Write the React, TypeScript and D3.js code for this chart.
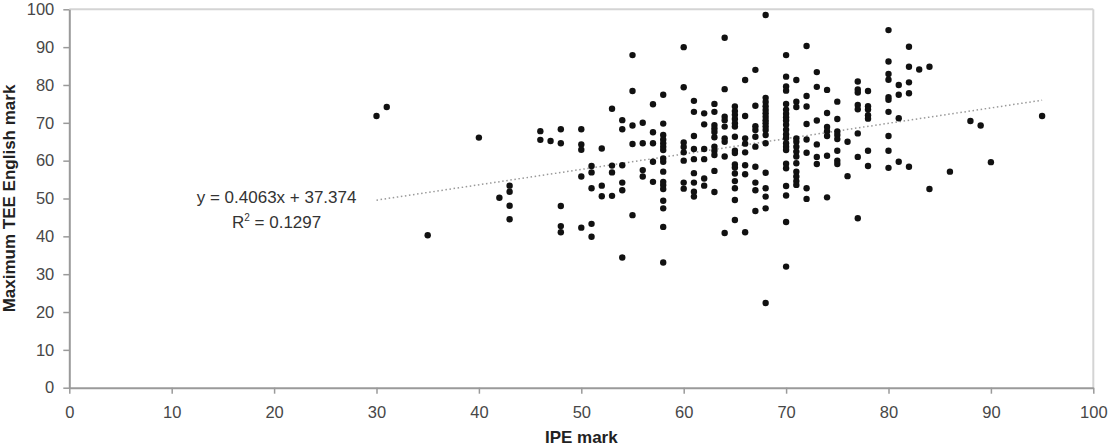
import React, { useRef, useEffect } from 'react';
import * as d3 from 'd3';

// IPE mark (x) and maximum TEE English mark (y)
const ipeMarks = [
  30, 31, 35, 40, 42,
  43, 43, 43, 43,
  46, 46, 47,
  48, 48, 48, 48, 48,
  50, 50, 50, 50, 50,
  51, 51, 51, 51, 51,
  52, 52, 52,
  53, 53, 53, 53,
  54, 54, 54, 54, 54, 54,
  55, 55, 55, 55, 55,
  56, 56, 56, 56,
  57, 57, 57, 57, 57,
  58, 58, 58, 58, 58, 58, 58, 58, 58, 58, 58, 58, 58, 58, 58, 58, 58,
  60, 60, 60, 60, 60, 60, 60, 60,
  61, 61, 61, 61, 61, 61, 61, 61, 61,
  62, 62, 62, 62, 62, 62,
  63, 63, 63, 63, 63, 63, 63, 63, 63, 63, 63,
  64, 64, 64, 64, 64, 64, 64, 64, 64,
  65, 65, 65, 65, 65, 65, 65, 65, 65, 65, 65, 65, 65, 65, 65, 65,
  66, 66, 66, 66, 66, 66, 66, 66,
  67, 67, 67, 67, 67, 67, 67, 67, 67, 67,
  68, 68, 68, 68, 68, 68, 68, 68, 68, 68, 68, 68, 68, 68, 68, 68, 68, 68,
  70, 70, 70, 70, 70, 70, 70, 70, 70, 70, 70, 70, 70, 70, 70, 70, 70, 70, 70, 70, 70, 70,
  71, 71, 71, 71, 71, 71, 71, 71, 71, 71, 71, 71, 71,
  72, 72, 72, 72, 72, 72, 72, 72,
  73, 73, 73, 73, 73, 73,
  74, 74, 74, 74, 74, 74, 74,
  75, 75, 75, 75, 75, 75, 75, 75,
  76, 76,
  77, 77, 77, 77, 77, 77, 77, 77,
  78, 78, 78, 78, 78, 78, 78,
  80, 80, 80, 80, 80, 80, 80, 80, 80, 80,
  81, 81, 81, 81,
  82, 82, 82, 82, 82,
  83, 84, 84, 86, 88, 89, 90, 95,
];

const teeMarks = [
  71.8, 74.2, 40.3, 66.1, 50.2,
  53.4, 51.8, 48.1, 44.5,
  67.8, 65.5, 65.2,
  68.3, 64.6, 48, 42.7, 41.1,
  68.3, 64.3, 62.9, 55.8, 42.3,
  58.6, 56.9, 52.7, 43.3, 39.9,
  63.2, 53.4, 50.6,
  73.7, 58.7, 56.9, 50.7,
  70.7, 68.3, 58.8, 54.2, 52.2, 34.4,
  87.9, 78.4, 69.3, 64.4, 45.6,
  70, 64.6, 57.5, 55.8,
  74.9, 67.5, 64.6, 59.7, 54.4,
  77.4, 69.8, 66.8, 65.6, 64.6, 63.7, 62.8, 60.6, 59.7, 57.1, 54.4, 53.6, 52.5, 49.4, 47.4, 42.5, 33.1,
  90, 79.4, 64.8, 63.6, 62.2, 60, 54.2, 52.6,
  75.8, 72.9, 66.5, 63.1, 60.4, 56.7, 54.2, 51.8, 50.5,
  72.5, 69.6, 63.1, 60.4, 55.3, 53.4,
  75, 72.9, 69.4, 68.5, 67.6, 66.2, 63.7, 62.6, 61.5, 57.3, 51.7,
  92.5, 78.9, 71.6, 70.7, 69, 65.9, 65, 61.1, 40.9,
  74.3, 73.1, 72.1, 71, 69.9, 69, 66.3, 62.6, 62, 59, 58.2, 56.6, 54.6, 52.7, 49.6, 44.3,
  81.3, 71.8, 65.9, 64.5, 62.2, 58.8, 56.4, 41.1,
  84, 74.5, 69.1, 68.1, 66.3, 63.7, 58.4, 54.2, 52.2, 46.7,
  98.5, 76.6, 75.5, 74.4, 73.4, 72.5, 71.6, 70.7, 69.9, 69, 68.1, 66.8, 64.6, 56.8, 52.7, 50.5, 47.4, 22.4,
  87.9, 82.2, 79.6, 78.5, 75, 73.5, 72.4, 71.5, 70.6, 69.5, 68.2, 67, 66, 64.6, 63.7, 62.8, 59.2, 58, 53.3, 50.8, 43.8, 32,
  81.3, 75.6, 74.2, 65.9, 65, 63.7, 62.4, 61.1, 59.3, 57.1, 55.8, 54.6, 53.6,
  90.3, 77.1, 74.3, 69.7, 65.6, 62.1, 52.7, 49.9,
  83.4, 79.5, 70.6, 64.3, 61, 59.1,
  78.7, 72.6, 68.9, 67.8, 66.5, 61.3, 50.3,
  75.6, 71, 67.7, 66.8, 65.7, 62.6, 60, 59.1,
  65, 55.9,
  80.9, 78.8, 78, 74.7, 73.6, 67.2, 61, 44.8,
  78.4, 74.4, 73.5, 72, 71.1, 62.6, 58.6,
  94.5, 86.2, 82.9, 81.4, 76.8, 76.1, 72.9, 66.5, 62.6, 58.1,
  80, 77.4, 71.2, 59.7,
  90.1, 84.8, 80.7, 77.8, 58.4,
  84.1, 84.8, 52.5, 57.1, 70.5, 69.3, 59.6, 71.8,
];

const xTicks = [0, 10, 20, 30, 40, 50, 60, 70, 80, 90, 100];
const yTicks = [0, 10, 20, 30, 40, 50, 60, 70, 80, 90, 100];

// trendline reported in the chart
const slope = 0.4063;
const intercept = 37.374;
const rSquared = 0.1297;
const trendRange = [30, 95];

const App = () => {
  const width = 1113;
  const height = 446;
  const svgRef = useRef();

  useEffect(() => {
    document.body.style.margin = '0';
    const margin = { top: 9.3, right: 19.7, bottom: 58.3, left: 69.3 };
    const innerW = width - margin.left - margin.right;
    const innerH = height - margin.top - margin.bottom;

    const svg = d3.select(svgRef.current);
    svg.selectAll('*').remove();
    svg.attr('width', width).attr('height', height)
      .style('display', 'block')
      .style('font-family', '"Liberation Sans", Arial, sans-serif');

    const x = d3.scaleLinear().domain([0, 100]).range([0, innerW]);
    const y = d3.scaleLinear().domain([0, 100]).range([innerH, 0]);

    const g = svg.append('g')
      .attr('transform', 'translate(' + margin.left + ',' + margin.top + ')');

    // plot area border (top and right are lighter)
    g.append('line').attr('x1', 0).attr('x2', innerW).attr('y1', 0).attr('y2', 0)
      .attr('stroke', '#d4d4d4').attr('stroke-width', 2);
    g.append('line').attr('x1', innerW).attr('x2', innerW).attr('y1', 0).attr('y2', innerH)
      .attr('stroke', '#d4d4d4').attr('stroke-width', 2);

    const yAxis = g.append('g')
      .call(d3.axisLeft(y).tickValues(yTicks).tickSize(6).tickPadding(9).tickSizeOuter(0));
    const xAxis = g.append('g')
      .attr('transform', 'translate(0,' + innerH + ')')
      .call(d3.axisBottom(x).tickValues(xTicks).tickSize(6).tickPadding(13).tickSizeOuter(0));

    [xAxis, yAxis].forEach(ax => {
      ax.select('.domain').attr('stroke', '#9a9a9a').attr('stroke-width', 2);
      ax.selectAll('.tick line').attr('stroke', '#9a9a9a').attr('stroke-width', 1.5);
      ax.selectAll('.tick text')
        .attr('fill', '#474747')
        .style('font-size', '16.5px')
        .style('font-family', '"Liberation Sans", Arial, sans-serif');
    });

    // trendline
    const line = d3.line()
      .x(d => x(d))
      .y(d => y(slope * d + intercept));
    g.append('path')
      .attr('d', line(trendRange))
      .attr('fill', 'none')
      .attr('stroke', '#999')
      .attr('stroke-width', 1.5)
      .attr('stroke-dasharray', '1.5,2.6');

    // points
    g.selectAll('circle.pt')
      .data(d3.zip(ipeMarks, teeMarks))
      .enter()
      .append('circle')
        .attr('class', 'pt')
        .attr('cx', d => x(d[0]))
        .attr('cy', d => y(d[1]))
        .attr('r', 3.2)
        .attr('fill', '#111');

    // equation labels
    svg.append('text')
      .attr('x', 276.6)
      .attr('y', 203)
      .attr('text-anchor', 'middle')
      .attr('fill', '#333')
      .style('font-size', '17px')
      .text('y = ' + slope + 'x + ' + intercept);
    const r2 = svg.append('text')
      .attr('x', 276.6)
      .attr('y', 228)
      .attr('text-anchor', 'middle')
      .attr('fill', '#333')
      .style('font-size', '17px');
    r2.append('tspan').text('R');
    r2.append('tspan').attr('dy', -7).style('font-size', '10px').text('2');
    r2.append('tspan').attr('dy', 7).text(' = ' + rSquared);

    // axis titles
    svg.append('text')
      .attr('x', margin.left + innerW / 2)
      .attr('y', 443)
      .attr('text-anchor', 'middle')
      .attr('fill', '#222')
      .style('font-size', '17px')
      .style('font-weight', 'bold')
      .text('IPE mark');
    svg.append('text')
      .attr('transform', 'translate(15,' + (margin.top + innerH / 2) + ') rotate(-90)')
      .attr('text-anchor', 'middle')
      .attr('fill', '#222')
      .style('font-size', '17px')
      .style('font-weight', 'bold')
      .text('Maximum TEE English mark');
  }, [svgRef]);

  return (
    <>
      <svg ref={svgRef}></svg>
    </>
  );
};

export default App;
